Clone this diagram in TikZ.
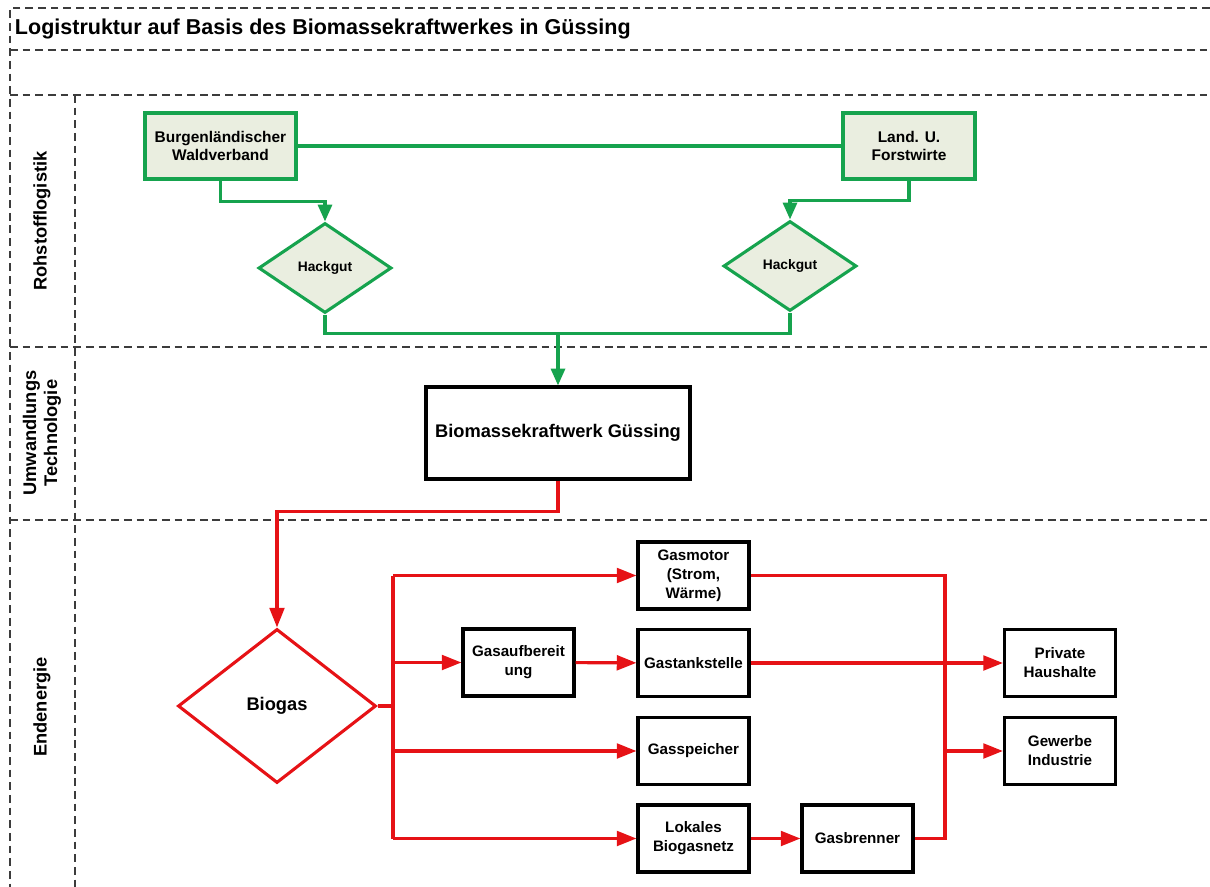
\documentclass[tikz,border=0pt]{standalone}
\usepackage{fontspec}
\setmainfont{Liberation Sans}
\usetikzlibrary{arrows.meta,shapes.geometric,positioning}
\definecolor{flowgreen}{RGB}{22,163,78}
\definecolor{greenfill}{RGB}{234,238,224}
\definecolor{flowred}{RGB}{230,18,22}
\definecolor{laneline}{RGB}{60,60,60}

\begin{document}
\begin{tikzpicture}[x=0.025cm, y=-0.025cm,
	lane/.style={draw=laneline, line width=0.9pt, dash pattern=on 5.5pt off 3.5pt},
	lanelabel/.style={rotate=90, align=center, font=\fontsize{13}{15}\selectfont\bfseries},
	greenbox/.style={draw=flowgreen, fill=greenfill, line width=2.2pt, align=center, inner sep=0pt,
		minimum height=1.65cm, font=\fontsize{11}{12.5}\selectfont\bfseries},
	hackgut/.style={diamond, draw=flowgreen, fill=greenfill, line width=2.2pt, inner sep=0pt,
		minimum width=3.325cm, minimum height=2.25cm, font=\fontsize{9.8}{11}\selectfont\bfseries},
	blackbox/.style={draw, line width=2.2pt, align=center, inner sep=0pt,
		minimum width=2.775cm, minimum height=1.675cm, font=\fontsize{10.8}{13.5}\selectfont\bfseries},
	greenline/.style={draw=flowgreen, line width=2.2pt},
	greenarrow/.style={greenline, -{Triangle[length=12pt,width=10pt]}},
	redline/.style={draw=flowred, line width=2.2pt},
	redarrow/.style={redline, -{Triangle[length=14pt,width=10.5pt]}}]
	
	\useasboundingbox (0,0) rectangle (1210,887);
	
	% Swimlanes
	\draw[lane] (1210,8) -- (10,8) -- (10,887);
	\foreach \y in {50,95,347,520}
		\draw[lane] (10,\y) -- (1210,\y);
	\draw[lane] (75,95) -- (75,887);
	
	\node[anchor=west, font=\fontsize{15.3}{18}\selectfont\bfseries] (title) at (10,29)
		{Logistruktur auf Basis des Biomassekraftwerkes in Güssing};
	
	\node[lanelabel] (roh) at (42,221) {Rohstofflogistik};
	\node[lanelabel] (umw) at (42,433) {Umwandlungs\\Technologie};
	\node[lanelabel] (end) at (42,707) {Endenergie};
	
	% Rohstofflogistik
	\node[greenbox, minimum width=3.775cm] (wald) at (220.5,146) {Burgenländischer\\Waldverband};
	\node[greenbox, minimum width=3.3cm] (forst) at (909,146) {Land. U.\\Forstwirte};
	\node[hackgut] (hackL) at (325,268) {Hackgut};
	\node[hackgut] (hackR) at (790,266) {Hackgut};
	
	\draw[greenline] (wald) -- (forst);
	\draw[greenarrow] (wald.south) -- ++(0,21) -| (hackL.north);
	\draw[greenarrow] (forst.south) -- ++(0,20) -| (hackR.north);
	\draw[greenline] (hackL.south) -- ++(0,19) -| (hackR.south);
	\coordinate (gjoin) at (558,332);
	
	% Umwandlung
	\node[blackbox, minimum width=6.6cm, minimum height=2.3cm, font=\fontsize{13}{15}\selectfont\bfseries]
		(kraftwerk) at (558,433) {Biomassekraftwerk Güssing};
	\draw[greenarrow] (gjoin) -- (kraftwerk.north);
	
	% Endenergie
	\node[diamond, draw=flowred, line width=2.2pt, inner sep=0pt, minimum width=4.95cm, minimum height=3.85cm,
		font=\fontsize{13}{15}\selectfont\bfseries] (biogas) at (277,706) {Biogas};
	\draw[redarrow] (kraftwerk.south) -- ++(0,31) -| (biogas.north);
	
	\node[blackbox] (aufber) at (518.5,662.5) {Gasaufbereit\\ung};
	\node[blackbox] (motor) at (693.5,575.5) {Gasmotor\\(Strom,\\Wärme)};
	\node[blackbox] (tank) at (693.5,663) {Gastankstelle};
	\node[blackbox] (speicher) at (693.5,751) {Gasspeicher};
	\node[blackbox] (lokal) at (693.5,838.5) {Lokales\\Biogasnetz};
	\node[blackbox] (brenner) at (857.5,838.5) {Gasbrenner};
	\node[blackbox] (privat) at (1060,663) {Private\\Haushalte};
	\node[blackbox] (gewerbe) at (1060,751) {Gewerbe\\Industrie};
	
	\coordinate (bus) at (393,706);
	\draw[redline] (biogas.east) -- (bus);
	\draw[redline] (bus |- motor.west) -- (bus |- lokal.west);
	\foreach \n in {motor,aufber,speicher,lokal}
		\draw[redarrow] (bus |- \n.west) -- (\n.west);
	\draw[redarrow] (aufber) -- (tank);
	\draw[redarrow] (lokal) -- (brenner);
	
	\coordinate (collect) at (945,751);
	\draw[redline] (motor.east) -| (collect);
	\draw[redline] (brenner.east) -| (collect);
	\draw[redarrow] (collect) -- (gewerbe.west);
	\draw[redarrow] (tank) -- (privat);
\end{tikzpicture}
\end{document}
